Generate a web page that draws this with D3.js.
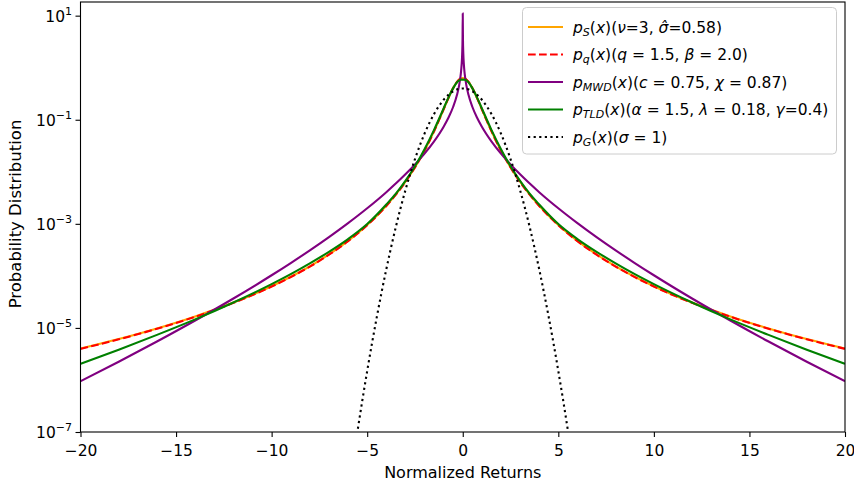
<!DOCTYPE html>
<html>
<head>
<meta charset="utf-8">
<script src="https://cdn.jsdelivr.net/npm/d3@7"></script>
<style>
  body { margin: 0; background: #fff; }
  svg { display: block; }
  text { font-family: "DejaVu Sans", sans-serif; fill: #000; }
</style>
</head>
<body>
<svg width="854" height="486"></svg>
<script>
// shared grid for p_S, p_q and p_TLD
var xCore = [-20,-18,-16,-14,-12,-10,-9,-8,-7,-6,-5,-4,-3.5,-3,-2.5,-2,-1.5,-1.25,-1,-0.75,-0.5,-0.3,-0.2,-0.1,0,
             0.1,0.2,0.3,0.5,0.75,1,1.25,1.5,2,2.5,3,3.5,4,5,6,7,8,9,10,12,14,16,18,20];

var pStudent = [4.01e-6,6.11e-6,9.77e-6,1.663e-5,3.07e-5,6.33e-5,9.60e-5,1.527e-4,2.58e-4,4.71e-4,9.54e-4,2.231e-3,3.671e-3,6.442e-3,1.225e-2,2.572e-2,6.076e-2,9.759e-2,0.1599,0.2613,0.4071,0.5342,0.5863,0.6213,0.6337,
                0.6213,0.5863,0.5342,0.4071,0.2613,0.1599,9.759e-2,6.076e-2,2.572e-2,1.225e-2,6.442e-3,3.671e-3,2.231e-3,9.54e-4,4.71e-4,2.58e-4,1.527e-4,9.60e-5,6.33e-5,3.07e-5,1.663e-5,9.77e-6,6.11e-6,4.01e-6];

var pQGauss = [3.96e-6,6.03e-6,9.64e-6,1.64e-5,3.03e-5,6.24e-5,9.47e-5,1.507e-4,2.55e-4,4.65e-4,9.42e-4,2.203e-3,3.626e-3,6.366e-3,1.211e-2,2.546e-2,6.027e-2,9.695e-2,0.1592,0.2608,0.4074,0.5358,0.5886,0.6241,0.6366,
               0.6241,0.5886,0.5358,0.4074,0.2608,0.1592,9.695e-2,6.027e-2,2.546e-2,1.211e-2,6.366e-3,3.626e-3,2.203e-3,9.42e-4,4.65e-4,2.55e-4,1.507e-4,9.47e-5,6.24e-5,3.03e-5,1.64e-5,9.64e-6,6.03e-6,3.96e-6];

var pTLD = [2.04e-6,3.82e-6,7.35e-6,1.46e-5,3.08e-5,6.95e-5,1.08e-4,1.74e-4,2.9e-4,5.1e-4,9.9e-4,2.35e-3,3.8e-3,6.7e-3,1.28e-2,2.72e-2,6.4e-2,0.102,0.165,0.266,0.405,0.525,0.566,0.585,0.59,
            0.585,0.566,0.525,0.405,0.266,0.165,0.102,6.4e-2,2.72e-2,1.28e-2,6.7e-3,3.8e-3,2.35e-3,9.9e-4,5.1e-4,2.9e-4,1.74e-4,1.08e-4,6.95e-5,3.08e-5,1.46e-5,7.35e-6,3.82e-6,2.04e-6];

// p_MWD has a sharp cusp at 0
var xMWD = [-20,-18,-16,-14,-12,-10,-9,-8,-7,-6,-5,-4,-3,-2.5,-2,-1.5,-1,-0.75,-0.5,-0.3,-0.2,-0.1,-0.06,-0.03,-0.01,0,
            0.01,0.03,0.06,0.1,0.2,0.3,0.5,0.75,1,1.5,2,2.5,3,4,5,6,7,8,9,10,12,14,16,18,20];
var pMWD = [9.45e-7,2.24e-6,5.475e-6,1.387e-5,3.671e-5,1.028e-4,1.765e-4,3.09e-4,5.554e-4,1.0315e-3,1.992e-3,4.058e-3,8.933e-3,1.383e-2,2.234e-2,3.843e-2,7.346e-2,0.1091,0.1777,0.3016,0.4373,0.7717,1.131,1.842,3.83,11,
            3.83,1.842,1.131,0.7717,0.4373,0.3016,0.1777,0.1091,7.346e-2,3.843e-2,2.234e-2,1.383e-2,8.933e-3,4.058e-3,1.992e-3,1.0315e-3,5.554e-4,3.09e-4,1.765e-4,1.028e-4,3.671e-5,1.387e-5,5.475e-6,2.24e-6,9.45e-7];

// gaussian, runs off the bottom of the axes
var xGauss = [-6,-5.5,-5,-4.5,-4,-3.5,-3,-2.5,-2,-1.5,-1,-0.5,0,0.5,1,1.5,2,2.5,3,3.5,4,4.5,5,5.5,6];
var pGauss = [6.08e-9,1.077e-7,1.487e-6,1.598e-5,1.338e-4,8.727e-4,4.432e-3,1.753e-2,5.399e-2,0.1295,0.242,0.3521,0.3989,
              0.3521,0.242,0.1295,5.399e-2,1.753e-2,4.432e-3,8.727e-4,1.338e-4,1.598e-5,1.487e-6,1.077e-7,6.08e-9];

var xTicks = [-20,-15,-10,-5,0,5,10,15,20];
var yTicks = [1e1,1e-1,1e-3,1e-5,1e-7];
var yTickExp = ['1','\u22121','\u22123','\u22125','\u22127'];

// legend labels: [text, kind] with kind i = italic, s = subscript, r = roman
var legendLabels = [
  [['p','i'],['S','s'],['(','r'],['x','i'],[')(','r'],['\u03bd','i'],['=3, ','r'],['\u03c3\u0302','i'],['=0.58)','r']],
  [['p','i'],['q','s'],['(','r'],['x','i'],[')(','r'],['q','i'],[' = 1.5, ','r'],['\u03b2','i'],[' = 2.0)','r']],
  [['p','i'],['MWD','s'],['(','r'],['x','i'],[')(','r'],['c','i'],[' = 0.75, ','r'],['\u03c7','i'],[' = 0.87)','r']],
  [['p','i'],['TLD','s'],['(','r'],['x','i'],[')(','r'],['\u03b1','i'],[' = 1.5, ','r'],['\u03bb','i'],[' = 0.18, ','r'],['\u03b3','i'],['=0.4)','r']],
  [['p','i'],['G','s'],['(','r'],['x','i'],[')(','r'],['\u03c3','i'],[' = 1)','r']]
];

(function (d3) {
  'use strict';

  var svg = d3.select('svg');
  var left = 80.5, right = 845, top = 2, bottom = 432;

  var x = d3.scaleLinear().domain([-20, 20]).range([left, right]);
  var y = d3.scaleLog().domain([1e-7, 18.3]).range([bottom, top]);

  svg.append('clipPath').attr('id', 'plot')
    .append('rect')
      .attr('x', left).attr('y', top)
      .attr('width', right - left).attr('height', bottom - top);

  var series = [
    { xs: xCore, ys: pStudent, color: '#ffa500', dash: null },
    { xs: xCore, ys: pQGauss,  color: '#ff0000', dash: '7.7,3.3' },
    { xs: xMWD,  ys: pMWD,     color: '#800080', dash: null },
    { xs: xCore, ys: pTLD,     color: '#008000', dash: null },
    { xs: xGauss, ys: pGauss,  color: '#000000', dash: '2.2,3.4' }
  ];

  var line = d3.line()
      .x(function (d) { return x(d[0]); })
      .y(function (d) { return y(d[1]); })
      .curve(d3.curveMonotoneX);

  svg.append('g')
      .attr('clip-path', 'url(#plot)')
    .selectAll('path')
    .data(series)
    .enter()
    .append('path')
      .attr('fill', 'none')
      .attr('stroke', function (d) { return d.color; })
      .attr('stroke-width', 2.1)
      .attr('stroke-dasharray', function (d) { return d.dash; })
      .attr('d', function (d) { return line(d.xs.map(function (v, i) { return [v, d.ys[i]]; })); });

  // x axis
  var xAxis = svg.append('g').attr('transform', 'translate(0,' + bottom + ')')
      .call(d3.axisBottom(x).tickValues(xTicks).tickSize(5).tickPadding(8)
        .tickFormat(function (d) { return d < 0 ? '\u2212' + (-d) : '' + d; }));
  xAxis.select('.domain').remove();
  xAxis.selectAll('line').attr('stroke', '#000').attr('stroke-width', 1.1);
  xAxis.selectAll('text').attr('font-size', 15.5).attr('font-family', 'DejaVu Sans').attr('fill', '#000');

  // y axis
  var yAxis = svg.append('g').attr('transform', 'translate(' + left + ',0)')
      .call(d3.axisLeft(y).tickValues(yTicks).tickSize(5).tickFormat(''));
  yAxis.select('.domain').remove();
  yAxis.selectAll('line').attr('stroke', '#000').attr('stroke-width', 1.1);

  var yLab = svg.append('g').selectAll('text')
    .data(yTicks)
    .enter()
    .append('text')
      .attr('x', 72)
      .attr('y', function (d) { return y(d) + 6; })
      .attr('text-anchor', 'end')
      .attr('font-size', 15.5);
  yLab.append('tspan').text('10');
  yLab.append('tspan')
      .attr('dy', -7)
      .attr('font-size', 11)
      .text(function (d, i) { return yTickExp[i]; });

  // frame
  svg.append('rect')
      .attr('x', left).attr('y', top)
      .attr('width', right - left).attr('height', bottom - top)
      .attr('fill', 'none').attr('stroke', '#000').attr('stroke-width', 1.1);

  svg.append('text')
      .attr('x', (left + right) / 2)
      .attr('y', 478)
      .attr('text-anchor', 'middle')
      .attr('font-size', 16)
      .text('Normalized Returns');

  svg.append('text')
      .attr('transform', 'translate(21,' + ((top + bottom) / 2 - 3) + ') rotate(-90)')
      .attr('text-anchor', 'middle')
      .attr('font-size', 16.5)
      .text('Probability Distribution');

  // legend
  var legend = svg.append('g');
  legend.append('rect')
      .attr('x', 522.5).attr('y', 7.5)
      .attr('width', 314).attr('height', 146.5)
      .attr('rx', 4)
      .attr('fill', '#fff').attr('fill-opacity', 0.8)
      .attr('stroke', '#cccccc').attr('stroke-width', 1);

  var rowY = d3.scaleLinear().domain([0, 4]).range([27, 137]);

  var rows = legend.selectAll('g.row')
    .data(series)
    .enter()
    .append('g')
      .attr('class', 'row');

  rows.append('line')
      .attr('x1', 528).attr('x2', 563)
      .attr('y1', function (d, i) { return rowY(i); })
      .attr('y2', function (d, i) { return rowY(i); })
      .attr('stroke', function (d) { return d.color; })
      .attr('stroke-width', 2.1)
      .attr('stroke-dasharray', function (d) { return d.dash; });

  rows.append('text')
      .attr('x', 573)
      .attr('y', function (d, i) { return rowY(i) + 5.5; })
      .attr('font-size', 15.5)
      .each(function (d, i) {
        var t = d3.select(this);
        var shifted = false;
        legendLabels[i].forEach(function (seg) {
          var sp = t.append('tspan').text(seg[0]);
          if (seg[1] !== 'r') sp.attr('font-style', 'italic');
          if (seg[1] === 's') {
            sp.attr('font-size', 11).attr('dy', 3);
            shifted = true;
          } else if (shifted) {
            sp.attr('dy', -3);
            shifted = false;
          }
        });
      });

}(d3));
</script>
</body>
</html>
